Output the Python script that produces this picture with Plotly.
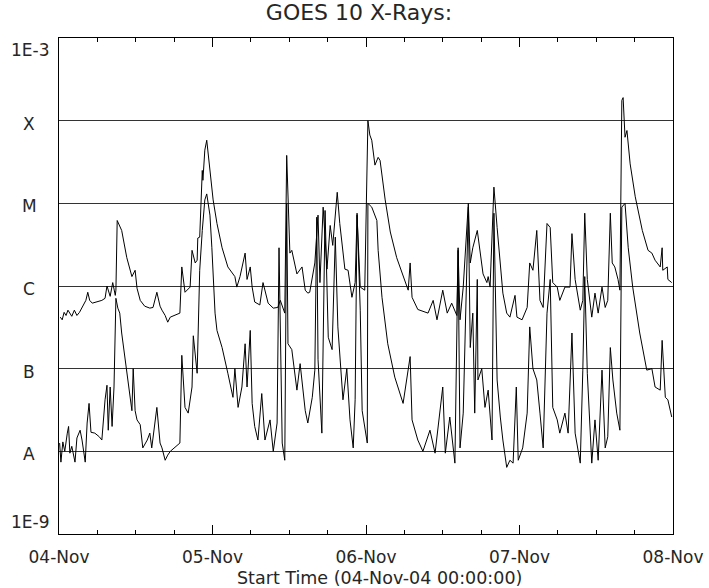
import pandas as pd
import plotly.graph_objects as go

# GOES 10 X-ray flux, 2004-11-04 .. 2004-11-08
# Time in hours since 04-Nov-04 00:00 UT, flux in W/m^2

long_hours = [0.2, 0.5, 0.8, 1.1, 1.4, 1.7, 2.0, 2.4, 2.8, 3.2, 3.6, 4.2, 4.5, 4.8, 5.2, 5.9, 6.7, 7.2,
              7.5, 8.0, 8.4, 8.8, 8.9,
              9.1, 9.5, 9.8, 10.6, 11.4, 11.9, 12.2, 12.7, 13.4, 14.2, 14.7, 15.3, 15.8, 16.1, 16.6, 17.0,
              17.4, 18.9, 19.2, 19.7, 20.5, 20.8, 21.3, 21.6, 21.7, 22.0, 22.4, 22.5, 22.8, 23.1, 23.6,
              24.1, 24.7, 25.5, 26.4, 27.5, 27.8, 28.3, 29.1, 29.4, 29.9, 30.2, 30.6, 31.4, 31.9, 32.7,
              33.5, 34.2, 34.6, 35.3, 35.6, 35.8, 36.1, 36.4, 37.2, 38.0, 38.5, 38.9, 39.2, 40.0, 40.5,
              40.8, 41.3, 41.9, 42.4, 42.8, 43.5, 43.9, 44.7, 45.2, 45.8, 46.3, 46.6, 47.1, 47.8, 48.3,
              48.6, 48.9, 49.4, 49.9, 50.2, 51.0, 51.8, 52.8, 54.1, 54.6, 54.9, 55.2, 56.1, 57.7, 58.5,
              59.1, 60.0, 60.7, 61.4, 62.2, 62.4, 62.7, 63.2, 64.0, 64.3, 64.7, 65.4, 65.8, 66.3, 66.9,
              67.1, 67.4, 68.0, 68.5, 69.0, 69.4, 70.0, 70.5, 71.3, 71.6, 72.4, 73.2, 73.6, 74.1, 74.7,
              75.2, 75.7, 76.3, 76.8, 77.2, 77.9, 78.3, 79.1, 79.9, 80.2, 80.7, 81.5, 81.9, 82.2, 82.6,
              83.3, 83.8, 84.3, 84.9, 85.4, 85.8, 86.2, 86.5, 86.9, 87.4, 87.7, 88.0, 88.2, 88.5, 88.8,
              89.3, 90.1, 91.2, 92.1, 92.7, 93.2, 94.0, 94.3, 94.4, 95.1, 95.2, 95.8]
long_flux = [4.2e-7, 3.9e-7, 4.8e-7, 4.4e-7, 5.1e-7, 4.7e-7, 4.3e-7, 5.1e-7, 4.4e-7, 4.8e-7, 5.5e-7,
             6.7e-7, 8.4e-7, 6.7e-7, 6.2e-7, 6.4e-7, 6.7e-7, 7.1e-7, 1.0e-6, 7.5e-7, 1.1e-6, 7.7e-7,
             8.9e-7,
             6.2e-6, 5.3e-6, 4.7e-6, 2.2e-6, 1.3e-6, 1.55e-6, 9.4e-7, 6.7e-7, 5.7e-7, 5.4e-7, 5.5e-7,
             8.4e-7, 5.7e-7, 5.1e-7, 4.4e-7, 3.65e-7,
             4.2e-7, 4.7e-7, 1.7e-6, 8.4e-7, 9.7e-7, 2.7e-6, 1.9e-6, 2.05e-6, 3.8e-6, 3.9e-6, 2.5e-5,
             1.9e-5, 4.4e-5, 5.8e-5, 2.65e-5,
             1.1e-5, 5.7e-6, 2.9e-6, 1.7e-6, 1.3e-6, 9.7e-7, 1.3e-6, 2.5e-6, 1.2e-6, 1.7e-6, 9.7e-7,
             6.4e-7, 5.9e-7, 1.1e-6, 6.2e-7,
             5.4e-7, 5.5e-7, 6.7e-7, 4.7e-7, 3.8e-5, 1.1e-5, 2.5e-6, 2.7e-6, 1.4e-6, 1.7e-6, 8.9e-7,
             8.2e-7, 8.4e-7, 1.9e-6, 7.2e-6,
             1.1e-6, 9.0e-6, 1.6e-6, 5.4e-6, 3.1e-6, 1.36e-5, 5.7e-6, 1.6e-6, 1.55e-6, 7.3e-7, 1.1e-6,
             7.2e-6, 9.7e-7, 8.9e-7, 1.0e-4,
             6.7e-5, 5.8e-5, 2.9e-5, 3.6e-5, 3.3e-5, 1.1e-5, 4.5e-6, 2.2e-6, 1.1e-6, 8.9e-7, 1.9e-6,
             7.3e-7, 5.2e-7, 4.7e-7, 6.7e-7,
             3.9e-7, 8.9e-7, 4.7e-7, 6.2e-7, 4.4e-7, 2.7e-6, 3.9e-7, 9.7e-7, 1.0e-5, 1.9e-6, 2.9e-6,
             4.7e-6, 2.9e-6, 1.4e-6, 1.1e-6,
             1.3e-6, 9.7e-7, 1.57e-5, 5.1e-6, 1.7e-6, 8.2e-7, 4.7e-7, 4.2e-7, 7.7e-7, 4.2e-7, 3.9e-7,
             5.5e-7, 1.9e-6, 1.55e-6, 4.7e-6,
             6.7e-7, 5.5e-7, 5.7e-6, 5.1e-6, 1.1e-6, 9.7e-7, 6.7e-7, 9.7e-7, 9.7e-7, 4.3e-6, 1.2e-6,
             5.1e-7, 6.7e-7, 7.6e-6, 1.2e-6,
             4.2e-7, 8.2e-7, 4.7e-7, 9.7e-7, 5.5e-7, 6.7e-7, 7.6e-6, 1.9e-6, 1.7e-6, 1.2e-6, 8.9e-7,
             1.76e-4, 1.9e-4, 6.3e-5, 7.6e-5,
             3.0e-5, 1.2e-5, 4.7e-6, 2.7e-6, 2.5e-6, 2.05e-6, 1.7e-6, 2.9e-6, 1.55e-6, 1.7e-6, 1.2e-6,
             1.1e-6]

short_hours = [0.1, 0.3, 0.6, 0.9, 1.3, 1.5, 1.7, 2.0, 2.5, 2.8, 3.3, 3.6, 4.1, 4.4, 4.7, 5.0, 5.6, 6.3,
               6.7, 7.2, 7.5,
               7.7, 8.0, 8.3, 8.6, 8.9, 9.2, 9.5, 9.8, 10.6, 11.1, 11.4, 11.6, 11.9, 12.2, 12.7, 13.1,
               13.8, 14.2, 14.5, 15.3, 15.8, 16.1, 16.6, 17.0, 17.4, 18.9, 19.2, 19.7, 20.2, 20.8, 21.0,
               21.6, 22.0, 22.4, 22.8, 23.1, 23.6, 23.9, 24.4, 24.7, 25.5, 26.4, 27.2, 27.5, 28.0, 28.6,
               29.1, 29.4, 29.9, 30.2, 30.6, 31.1, 31.7, 32.2, 33.0, 33.5, 34.1, 34.4, 34.9, 35.3, 35.6,
               35.8, 36.4, 37.2, 37.7, 38.5, 38.9, 39.6, 40.0, 40.3, 40.5, 41.1, 41.6, 42.1, 42.7, 43.2,
               43.6, 44.4, 45.0, 45.5, 46.0, 46.3, 46.6, 47.1, 47.4, 48.2, 48.3, 48.9, 49.7, 49.9, 50.5,
               51.4, 52.5, 53.8, 54.9, 55.2, 56.1, 56.9, 58.0, 58.8, 60.0, 60.4, 61.1, 61.9, 62.4, 62.7,
               63.2, 64.0, 64.3, 64.7, 65.0, 65.4, 65.5, 66.1, 66.6, 67.1, 67.7, 68.0, 68.5, 69.0, 69.4,
               70.0, 70.5, 71.0, 71.5, 71.8, 72.5, 73.2, 73.6, 74.1, 74.7, 75.2, 75.7, 76.3, 76.8, 77.2,
               77.9, 78.3, 79.1, 79.6, 80.2, 80.7, 81.5, 81.9, 82.2, 82.6, 83.3, 83.8, 84.3, 84.9, 85.4,
               85.8, 86.2, 86.6, 87.2, 87.7, 88.0, 88.5, 89.0, 89.7, 90.8, 91.9, 92.7, 93.2, 94.0, 94.3,
               94.8, 95.2, 95.8]
short_flux = [1.26e-8, 7.4e-9, 1.3e-8, 1.0e-8, 1.66e-8, 2.0e-8, 9.5e-9, 1.15e-8, 7.4e-9, 1.45e-8,
              1.8e-8, 1.37e-8, 7.4e-9, 2.2e-8, 3.8e-8, 1.7e-8, 1.66e-8, 1.5e-8, 1.37e-8, 4.2e-8, 6.3e-8,
              1.8e-8, 6.0e-8, 2.0e-8, 6.0e-8, 7.1e-7, 5.4e-7, 4.7e-7, 2.7e-7, 8.8e-8, 4.5e-8, 3.1e-8,
              1.0e-7, 3.1e-8, 2.4e-8, 2.1e-8, 1.1e-8,
              1.37e-8, 1.66e-8, 1.1e-8, 3.4e-8, 1.26e-8, 1.1e-8, 7.8e-9, 9.0e-9, 1.0e-8, 1.26e-8,
              1.45e-7, 3.4e-8, 2.9e-8, 6.0e-8, 2.5e-7,
              8.8e-8, 1.55e-6, 4.7e-6, 1.1e-5, 1.3e-5, 7.2e-6, 2.9e-6, 4.7e-7, 2.9e-7, 1.8e-7, 8.8e-8,
              4.5e-8, 1.0e-7, 3.4e-8, 6.0e-8,
              2.0e-7, 6.0e-8, 2.9e-7, 3.8e-8, 2.0e-8, 1.37e-8, 5.0e-8, 1.37e-8, 2.4e-8, 1.0e-8, 2.2e-8,
              2.9e-6, 1.26e-8, 7.8e-9, 1.0e-5,
              2.0e-7, 1.7e-7, 5.5e-8, 1.15e-7, 3.1e-8, 2.2e-8, 4.5e-8, 9.6e-8, 6.8e-6, 1.3e-7, 1.66e-8,
              8.2e-6, 2.4e-7, 1.7e-7, 3.9e-6,
              3.2e-7, 4.2e-8, 1.0e-7, 2.4e-8, 1.1e-8, 4.2e-8, 7.6e-6, 5.1e-7, 3.1e-8, 1.26e-8, 1.0e-5,
              9.0e-6, 6.2e-6, 2.7e-6, 7.3e-7,
              2.0e-7, 7.9e-8, 3.8e-8, 1.4e-7, 2.4e-8, 1.37e-8, 1.0e-8, 1.8e-8, 9.5e-9, 6.0e-8, 9.5e-9,
              2.6e-8, 7.2e-9, 2.9e-6, 1.1e-8,
              2.9e-8, 9.0e-6, 1.8e-7, 4.7e-7, 2.9e-8, 1.2e-6, 7.3e-8, 1.0e-7, 3.4e-8, 5.5e-8, 1.37e-8,
              7.6e-6, 7.3e-8, 2.6e-8, 1.37e-8,
              6.4e-9, 7.8e-9, 7.2e-9, 6.0e-8, 7.8e-9, 1.1e-8, 2.9e-8, 3.2e-7, 1.0e-7, 7.3e-8, 2.9e-8,
              1.1e-8, 4.7e-7, 1.2e-6, 3.4e-8,
              2.4e-8, 1.66e-8, 2.9e-8, 1.66e-8, 2.7e-7, 1.66e-8, 7.2e-9, 9.6e-8, 1.3e-6, 8.8e-8, 7.2e-9,
              2.4e-8, 7.8e-9, 9.6e-8, 1.1e-8,
              1.5e-8, 1.8e-7, 7.3e-8, 2.9e-8, 1.8e-8, 9.0e-6, 1.0e-5, 2.9e-6, 9.7e-7, 2.7e-7, 9.6e-8,
              1.0e-7, 6.0e-8, 5.5e-8, 2.2e-7,
              4.5e-8, 4.2e-8, 2.6e-8]

class_exponents = [-9, -8, -7, -6, -5, -4, -3]
class_labels = ["1E-9", "A", "B", "C", "M", "X", "1E-3"]

start = pd.Timestamp("2004-11-04 00:00:00")
end = pd.Timestamp("2004-11-08 00:00:00")


def to_time(hours):
    return start + pd.to_timedelta(hours, unit="h")


FONT = "DejaVu Sans"
INK = "#262626"

fig = go.Figure()
for hrs, flux in [(long_hours, long_flux), (short_hours, short_flux)]:
    fig.add_trace(go.Scatter(
        x=to_time(hrs), y=flux, mode="lines",
        line=dict(color="black", width=1), showlegend=False, hoverinfo="skip",
    ))

fig.update_layout(
    width=709, height=588,
    margin=dict(l=59, r=36, t=38, b=54),
    paper_bgcolor="white", plot_bgcolor="white",
    title=dict(text="GOES 10 X-Rays:", x=359 / 709, xref="container", xanchor="center",
               y=1 - 12 / 588, yref="container", yanchor="middle",
               font=dict(family=FONT, size=22, color=INK)),
    font=dict(family=FONT, color=INK),
)

fig.update_xaxes(
    type="date", range=[start, end], automargin=False,
    tickmode="linear", tick0=start, dtick=86400000,
    tickformat="%d-%b", ticks="inside", ticklen=9, tickwidth=1, tickcolor="black",
    minor=dict(dtick=6 * 3600000, ticks="inside", ticklen=4, tickwidth=1, tickcolor="black",
               showgrid=False),
    showgrid=False, zeroline=False,
    showline=True, linecolor="black", linewidth=1, mirror="ticks",
    tickfont=dict(family=FONT, size=17, color=INK), ticklabelstandoff=8,
)

fig.update_yaxes(
    type="log", range=[-9, -3], automargin=False,
    tickmode="array", tickvals=[10.0 ** e for e in class_exponents],
    showticklabels=False, ticks="",
    showgrid=True, gridcolor="#333333", gridwidth=1,
    zeroline=False, showline=True, linecolor="black", linewidth=1, mirror=True,
)

# Flare-class labels on the left
for exp, label in zip(class_exponents, class_labels):
    if exp in (-3, -9):
        fig.add_annotation(
            x=-7 / 614, xref="paper", y=exp, yref="y", text=label, showarrow=False,
            xanchor="right", yanchor="top" if exp == -3 else "bottom",
            font=dict(family=FONT, size=17, color=INK),
        )
    else:
        fig.add_annotation(
            x=-30 / 614, xref="paper", y=exp, yref="y", text=label, showarrow=False,
            xanchor="center", yanchor="middle", yshift=-3,
            font=dict(family=FONT, size=17, color=INK),
        )

fig.add_annotation(
    x=(379.5 - 59) / 614, xref="paper", y=(534 - 578) / 496, yref="paper",
    text="Start Time (04-Nov-04 00:00:00)", showarrow=False,
    xanchor="center", yanchor="middle",
    font=dict(family=FONT, size=17.5, color=INK),
)

fig.write_html("out.html")
